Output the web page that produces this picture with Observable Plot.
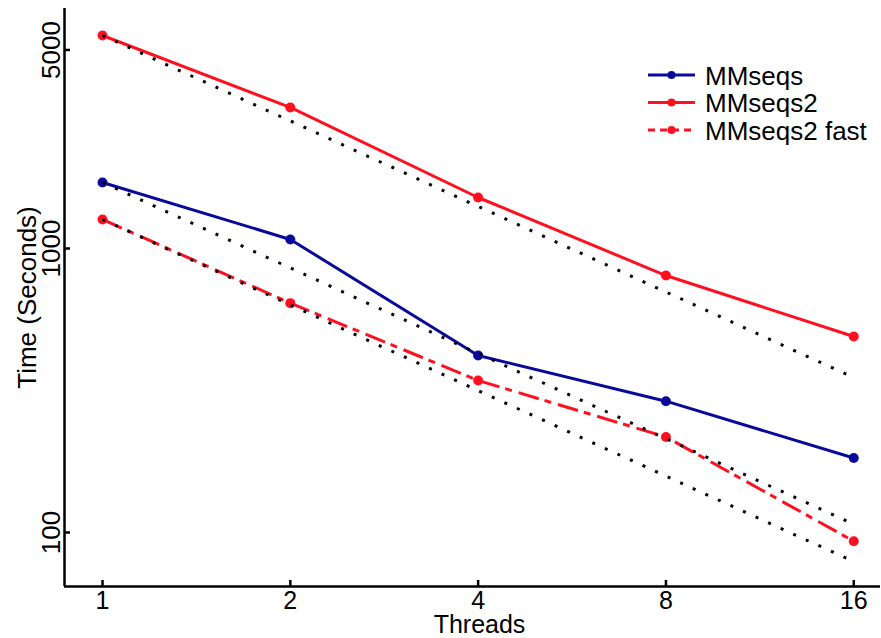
<!DOCTYPE html>
<html>
<head>
<meta charset="utf-8">
<script src="https://cdn.jsdelivr.net/npm/d3@7"></script>
<script src="https://cdn.jsdelivr.net/npm/@observablehq/plot@0.6"></script>
<style>
  html, body { margin: 0; padding: 0; background: #fff; }
  #wrap { position: relative; width: 881px; height: 638px; }
  #legend { position: absolute; left: 640px; top: 55px; }
</style>
</head>
<body>
<div id="wrap"></div>
<script>
// ---- data ----
const threads = [1, 2, 4, 8, 16];
const mmseqs     = [1708, 1076, 420, 290, 183];
const mmseqs2    = [5623, 3137, 1512, 803, 490];
const mmseqs2fast = [1265, 642, 343, 217, 93.2];
// ideal (linear) scaling reference lines, dotted
const idealMmseqs  = [1708, 854, 427, 214, 107];
const idealMmseqs2 = [5623, 2812, 1406, 703, 351];
const idealFast    = [1265, 633, 316, 158, 79];

const xTicks = [1, 2, 4, 8, 16];
const yTicks = [100, 1000, 5000];
const seriesNames = ["MMseqs", "MMseqs2", "MMseqs2 fast"];

const BLUE = "#0a0a9a";
const RED = "#ff1020";

const series = [
  {name: seriesNames[0], values: mmseqs, color: BLUE, dash: null},
  {name: seriesNames[1], values: mmseqs2, color: RED, dash: null},
  {name: seriesNames[2], values: mmseqs2fast, color: RED, dash: "21,6,7,7"}
];
const ideals = [idealMmseqs, idealMmseqs2, idealFast];

const toRows = (vals) => threads.map((t, i) => ({t, v: vals[i]}));

const xDomain = [0.8691, 17.66];
const yDomain = [64.55, 6998];
const FONT = "'Liberation Sans', Arial, Helvetica, sans-serif";

const marks = [];
// axis lines
marks.push(Plot.ruleX([xDomain[0]], {x: d => d, stroke: "black", strokeWidth: 2.5}));
marks.push(Plot.ruleY([yDomain[0]], {y: d => d, stroke: "black", strokeWidth: 2.5}));
// inward ticks
marks.push(Plot.tickX(xTicks, {x: d => d, stroke: "black", strokeWidth: 2.5, insetTop: 572}));
marks.push(Plot.tickY(yTicks, {y: d => d, stroke: "black", strokeWidth: 2.5, insetRight: 810}));
// tick labels
marks.push(Plot.text(xTicks, {x: d => d, text: d => String(d), frameAnchor: "bottom", dy: 5, lineAnchor: "top", fontSize: 25, fill: "black"}));
marks.push(Plot.text(yTicks, {y: d => d, text: d => String(d), frameAnchor: "left", dx: -5, rotate: -90, textAnchor: "middle", lineAnchor: "bottom", fontSize: 26, fill: "black"}));
// axis labels
marks.push(Plot.text(["Threads"], {text: d => d, frameAnchor: "bottom", dy: 46, dx: 7, lineAnchor: "bottom", fontSize: 25, fill: "black"}));
marks.push(Plot.text(["Time (Seconds)"], {text: d => d, frameAnchor: "left", dx: -29, rotate: -90, textAnchor: "middle", lineAnchor: "bottom", fontSize: 26, fill: "black"}));

// data lines
for (const s of series) {
  const rows = toRows(s.values);
  marks.push(Plot.line(rows, {x: "t", y: "v", stroke: s.color, strokeWidth: 3, strokeDasharray: s.dash || undefined, strokeLinecap: "butt"}));
  marks.push(Plot.dot(rows, {x: "t", y: "v", r: 5, fill: s.color, stroke: "none"}));
}
// dotted ideal lines on top
for (const vals of ideals) {
  marks.push(Plot.line(toRows(vals), {x: "t", y: "v", stroke: "black", strokeWidth: 3, strokeDasharray: "3,10.8", strokeLinecap: "butt"}));
}

const chart = Plot.plot({
  width: 881,
  height: 638,
  marginLeft: 64,
  marginRight: 1,
  marginTop: 8,
  marginBottom: 52,
  style: {fontFamily: FONT, fontSize: "26px", background: "white", overflow: "visible"},
  x: {type: "log", base: 2, domain: xDomain, axis: null},
  y: {type: "log", domain: yDomain, axis: null},
  marks
});

const wrap = document.getElementById("wrap");
wrap.appendChild(chart);

// legend (HTML-positioned SVG overlay)
const lg = d3.select(wrap).append("svg")
  .attr("id", "legend")
  .attr("width", 240).attr("height", 95)
  .style("font-family", FONT);
series.forEach((s, i) => {
  const cy = 20 + i * 27.5;
  const g = lg.append("g").attr("transform", `translate(0,${cy})`);
  g.append("line").attr("x1", 8).attr("x2", 55).attr("y1", 0).attr("y2", 0)
    .attr("stroke", s.color).attr("stroke-width", 3)
    .attr("stroke-dasharray", s.dash ? "7,5" : null);
  g.append("circle").attr("cx", 31.5).attr("cy", 0).attr("r", 4).attr("fill", s.color);
  g.append("text").attr("x", 65).attr("y", 9.5).attr("font-size", 26).attr("fill", "black").text(s.name);
});
</script>
</body>
</html>
